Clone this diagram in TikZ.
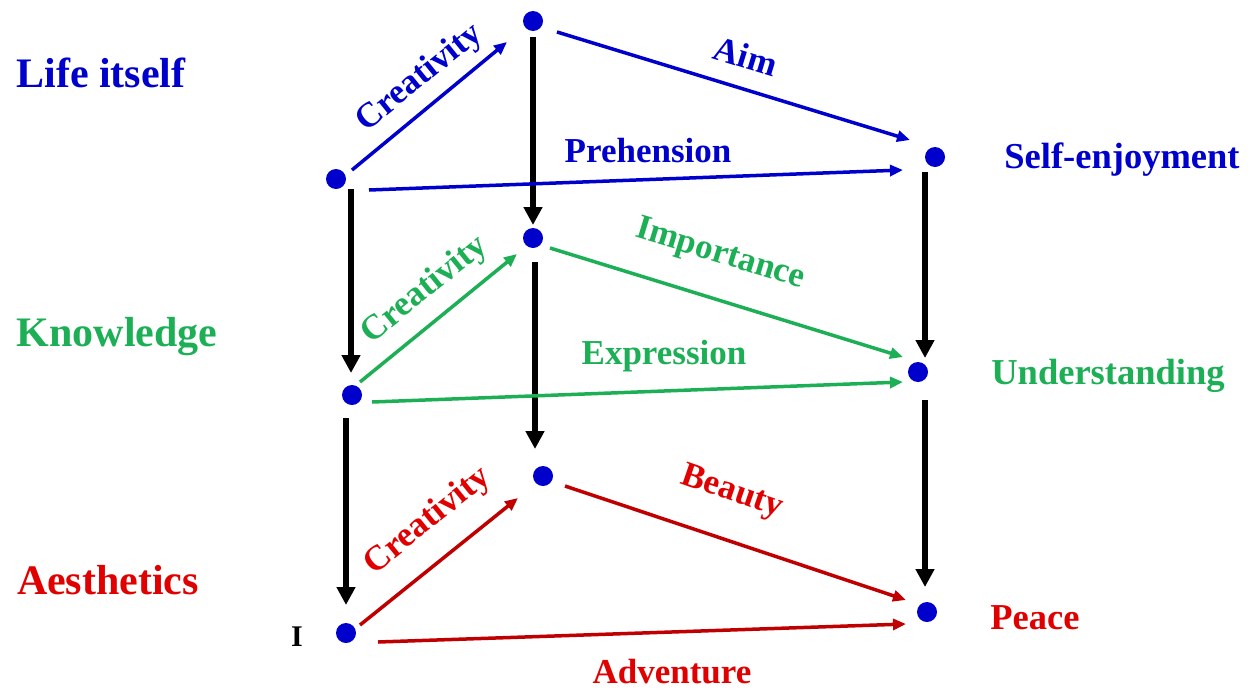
\documentclass[tikz,border=0pt]{standalone}
\usepackage{fontspec}
\setmainfont{Liberation Serif}
\usetikzlibrary{arrows.meta}
\definecolor{dblue}{HTML}{0000CC}
\definecolor{dgreen}{HTML}{1DAF55}
\definecolor{tred}{HTML}{E00000}
\definecolor{lred}{HTML}{C00000}
\tikzset{
  dot/.style={circle,fill=dblue,minimum size=20pt,inner sep=0pt},
  blk/.style={line width=6pt,-{Triangle[width=18pt,length=18pt]}},
  col/.style={line width=3.5pt,-{Triangle[width=11pt,length=13pt]}},
  bigl/.style={font=\fontsize{42pt}{48pt}\selectfont\bfseries,inner sep=0pt},
  lab/.style={font=\fontsize{35pt}{40pt}\selectfont\bfseries,inner sep=0pt},
  rlab/.style={font=\fontsize{36.5pt}{42pt}\selectfont\bfseries,inner sep=0pt},
}
\begin{document}
\begin{tikzpicture}[x=1pt,y=-1pt]
\useasboundingbox (0,0) rectangle (1258,691);
% dots
\node[dot] (A1) at (336,179) {};
\node[dot] (B1) at (533,21) {};
\node[dot] (C1) at (935,157) {};
\node[dot] (A2) at (352,395) {};
\node[dot] (B2) at (533,238) {};
\node[dot] (C2) at (918,372) {};
\node[dot] (A3) at (346,633) {};
\node[dot] (B3) at (543,476) {};
\node[dot] (C3) at (927,612) {};
% black vertical arrows
\draw[blk] ([shift={(0,16)}]B1.center) -- ([shift={(0,-13)}]B2.center);
\draw[blk] ([shift={(15,10)}]A1.center) -- ([shift={(-1,-22)}]A2.center);
\draw[blk] ([shift={(-10,15)}]C1.center) -- ([shift={(7,-14)}]C2.center);
\draw[blk] ([shift={(2,24)}]B2.center) -- ([shift={(-8,-27)}]B3.center);
\draw[blk] ([shift={(-6,23)}]A2.center) -- ([shift={(0,-28)}]A3.center);
\draw[blk] ([shift={(7,28)}]C2.center) -- ([shift={(-2,-25)}]C3.center);
% blue
\draw[col,dblue] ([shift={(16,-9)}]A1.center) -- ([shift={(-26,21)}]B1.center);
\draw[col,dblue] ([shift={(24,11)}]B1.center) -- ([shift={(-25,-17)}]C1.center);
\draw[col,dblue] ([shift={(33,11)}]A1.center) -- ([shift={(-32,13)}]C1.center);
% green
\draw[col,dgreen] ([shift={(8,-13)}]A2.center) -- ([shift={(-16,16)}]B2.center);
\draw[col,dgreen] ([shift={(17,10)}]B2.center) -- ([shift={(-15,-15)}]C2.center);
\draw[col,dgreen] ([shift={(20,7)}]A2.center) -- ([shift={(-15,10)}]C2.center);
% red
\draw[col,lred] ([shift={(14,-8)}]A3.center) -- ([shift={(-25,22)}]B3.center);
\draw[col,lred] ([shift={(22,10)}]B3.center) -- ([shift={(-21,-12)}]C3.center);
\draw[col,lred] ([shift={(32,9)}]A3.center) -- ([shift={(-21,12)}]C3.center);
% left labels
\node[bigl,dblue] (L1) at (101,73) {Life itself};
\node[bigl,dgreen] (L2) at (117,337) {Knowledge};
\node[bigl,tred] (L3) at (108,580) {Aesthetics};
% right labels
\node[rlab,dblue] (R1) at (1122,160) {Self-enjoyment};
\node[rlab,dgreen] (R2) at (1108,376) {Understanding};
\node[rlab,tred] (R3) at (1035,618) {Peace};
\node[font=\fontsize{30pt}{34pt}\selectfont\bfseries,inner sep=0pt] (I) at (297,637) {I};
% edge labels
\node[lab,dblue,rotate=39] (e1) at (420,78) {Creativity};
\node[lab,dblue,rotate=-17] (e2) at (746,56) {Aim};
\node[lab,dblue] (e3) at (648,151) {Prehension};
\node[lab,dgreen,rotate=39] (e4) at (425,290) {Creativity};
\node[lab,dgreen,rotate=-17] (e5) at (720,255) {Importance};
\node[lab,dgreen] (e6) at (664,356) {Expression};
\node[lab,tred,rotate=39] (e7) at (428,521) {Creativity};
\node[lab,tred,rotate=-19] (e8) at (732,493) {Beauty};
\node[lab,tred] (e9) at (672,672) {Adventure};
\end{tikzpicture}
\end{document}
